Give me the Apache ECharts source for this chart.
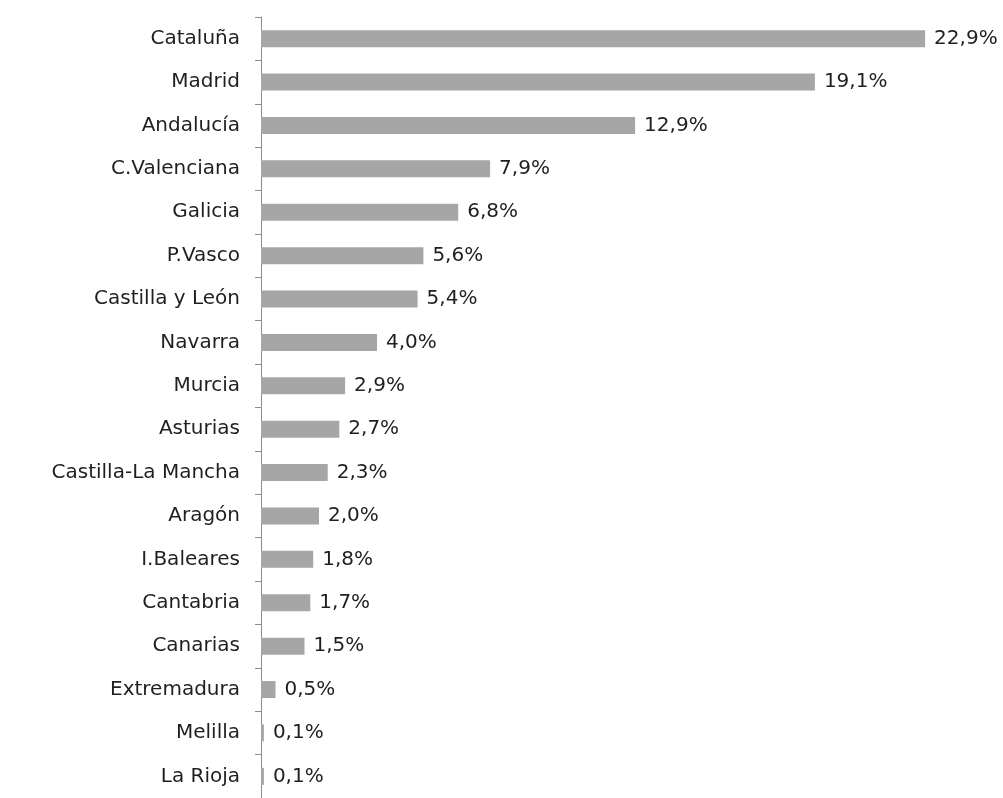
<!DOCTYPE html>
<html><head><meta charset="utf-8">
<script src="https://cdn.jsdelivr.net/npm/echarts@6/dist/echarts.min.js"></script>
<style>html,body{margin:0;padding:0;background:#fff}#c{width:1003px;height:798px}</style>
</head><body><div id="c"></div>
<script>
const categories = ["Cataluña","Madrid","Andalucía","C.Valenciana","Galicia","P.Vasco","Castilla y León","Navarra","Murcia","Asturias","Castilla-La Mancha","Aragón","I.Baleares","Cantabria","Canarias","Extremadura","Melilla","La Rioja"];
const values = [22.9,19.1,12.9,7.9,6.8,5.6,5.4,4.0,2.9,2.7,2.3,2.0,1.8,1.7,1.5,0.5,0.1,0.1];
const chart = echarts.init(document.getElementById('c'));
chart.setOption({
  animation:false,
  grid:{left:261,top:17,width:725,bottom:0,containLabel:false},
  xAxis:{type:'value',min:0,max:25,show:false},
  yAxis:{type:'category',data:categories,inverse:true,
    axisLine:{show:true,lineStyle:{color:'#8c8c8c',width:1}},
    axisTick:{show:true,length:6,lineStyle:{color:'#8c8c8c'}},
    axisLabel:{color:'#1f1f1f',fontSize:20,fontFamily:'DejaVu Sans',margin:21}},
  series:[{type:'bar',data:values,barWidth:17,
    itemStyle:{color:'#a6a6a6'},
    label:{show:true,position:'right',distance:9,color:'#1f1f1f',fontSize:20,fontFamily:'DejaVu Sans',
      formatter:p=>p.value.toFixed(1).replace('.',',')+'%'}}]
});
</script></body></html>
